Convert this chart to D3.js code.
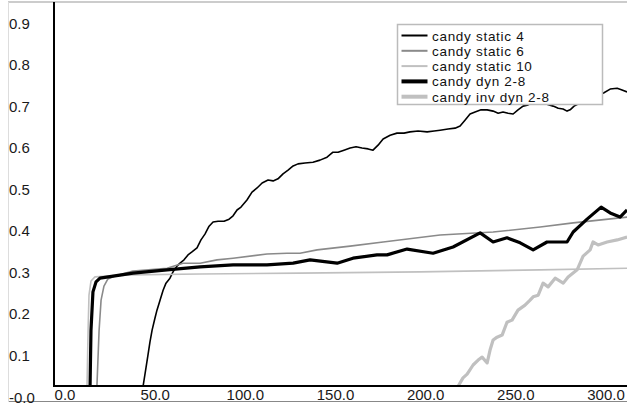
<!DOCTYPE html>
<html>
<head>
<meta charset="utf-8">
<script src="https://cdn.jsdelivr.net/npm/d3@7"></script>
<style>
  html, body { margin: 0; padding: 0; background: #fff; }
  svg { display: block; }
  text { font-family: "Liberation Sans", Arial, sans-serif; }
</style>
</head>
<body>
<div id="chart"></div>
<script>
// tick values and labels
const xTicks = [0, 50, 100, 150, 200, 250, 300];
const xTickLabels = ["0.0", "50.0", "100.0", "150.0", "200.0", "250.0", "300.0"];
const yTicks = [0, 0.1, 0.2, 0.3, 0.4, 0.5, 0.6, 0.7, 0.8, 0.9];
const yTickLabels = ["-0.0", "0.1", "0.2", "0.3", "0.4", "0.5", "0.6", "0.7", "0.8", "0.9"];

// series, [x, y]
const static4 = [
  [42.2,-0.01],[43.3,0.026],[44.9,0.070],[46.0,0.101],[47.1,0.132],[48.3,0.161],[49.9,0.190],
  [51.0,0.209],[52.7,0.233],[54.4,0.257],[56.0,0.274],[58.2,0.286],[59.9,0.301],[62.1,0.315],
  [63.8,0.322],[66.0,0.330],[68.2,0.342],[70.4,0.349],[73.2,0.359],[75.4,0.378],[77.6,0.392],
  [79.9,0.411],[82.1,0.421],[84.9,0.423],[88.2,0.423],[91.0,0.428],[93.2,0.436],[95.4,0.450],
  [97.6,0.457],[100.9,0.474],[103.7,0.493],[106.5,0.503],[109.3,0.515],[112.6,0.522],[115.4,0.520],
  [118.1,0.525],[120.9,0.537],[123.7,0.546],[126.5,0.556],[129.2,0.561],[133.1,0.563],[137.5,0.565],
  [141.4,0.570],[145.3,0.577],[148.6,0.589],[151.4,0.589],[154.7,0.594],[158.1,0.599],[161.4,0.602],
  [164.7,0.599],[168.1,0.597],[170.8,0.594],[173.6,0.606],[176.4,0.621],[180.3,0.630],[184.1,0.635],
  [188.0,0.635],[191.3,0.638],[195.8,0.640],[200.8,0.638],[204.7,0.640],[208.0,0.642],[212.4,0.645],
  [216.3,0.647],[219.1,0.652],[221.8,0.666],[224.6,0.681],[227.4,0.686],[230.7,0.691],[234.1,0.691],
  [237.4,0.688],[240.2,0.683],[242.9,0.686],[245.7,0.683],[248.5,0.681],[251.2,0.691],[254.0,0.700],
  [256.8,0.703],[260.1,0.710],[263.5,0.710],[266.8,0.705],[270.7,0.700],[273.5,0.695],[276.2,0.693],
  [278.4,0.688],[280.1,0.691],[282.3,0.700],[284.5,0.705],[287.9,0.712],[291.2,0.719],[295.1,0.727],
  [298.4,0.731],[302.3,0.741],[306.2,0.743],[308.9,0.739],[311.7,0.734]
];
const static6 = [
  [17.2,-0.01],[17.7,0.026],[18.9,0.160],[20.0,0.233],[21.6,0.267],[23.8,0.284],[27.7,0.291],
  [37.7,0.303],[56.6,0.310],[65.4,0.322],[74.9,0.322],[84.3,0.330],[93.2,0.334],[112.0,0.344],
  [123.1,0.346],[130.3,0.346],[139.8,0.354],[158.1,0.363],[176.4,0.373],[208.0,0.390],
  [237.4,0.397],[263.5,0.409],[281.8,0.419],[311.7,0.433]
];
const static10 = [
  [11.6,-0.01],[12.2,0.026],[12.8,0.160],[13.3,0.245],[14.4,0.279],[16.6,0.289],[36.1,0.294],
  [74.9,0.296],[130.3,0.298],[196.9,0.301],[263.5,0.306],[311.7,0.310]
];
const dyn28 = [
  [13.3,-0.01],[13.9,0.026],[14.4,0.160],[15.5,0.253],[17.2,0.277],[19.4,0.286],[37.7,0.298],
  [56.6,0.306],[74.9,0.313],[93.2,0.318],[112.0,0.318],[126.5,0.322],[135.9,0.330],[150.9,0.322],
  [159.7,0.334],[173.0,0.342],[178.6,0.342],[189.7,0.356],[204.1,0.346],[215.2,0.361],[230.2,0.395],
  [237.4,0.373],[245.1,0.383],[252.4,0.371],[259.6,0.354],[267.3,0.373],[278.4,0.373],[281.8,0.397],
  [289.5,0.428],[297.3,0.457],[302.3,0.443],[307.8,0.433],[311.7,0.450]
];
const invDyn28 = [
  [216.3,-0.01],[218.0,0.026],[220.7,0.046],[223.0,0.055],[226.3,0.077],[229.1,0.089],[231.3,0.096],
  [234.1,0.082],[235.7,0.113],[237.4,0.137],[239.6,0.144],[242.4,0.149],[245.1,0.180],[247.9,0.185],
  [251.2,0.209],[255.1,0.221],[257.9,0.233],[259.6,0.241],[262.4,0.245],[265.1,0.274],[267.9,0.265],
  [271.8,0.286],[274.5,0.279],[276.3,0.274],[279.0,0.289],[284.0,0.306],[287.3,0.339],[291.2,0.354],
  [292.8,0.373],[295.6,0.366],[300.6,0.373],[306.2,0.378],[311.7,0.385]
];

const seriesNames = ["candy static 4", "candy static 6", "candy static 10", "candy dyn 2-8", "candy inv dyn 2-8"];
const seriesData = [static4, static6, static10, dyn28, invDyn28];
const seriesColors = ["#000", "#8a8a8a", "#c0c0c0", "#000", "#c0c0c0"];
const seriesWidths = [1.6, 1.6, 1.6, 3.2, 3.2];

const width = 627;
const height = 406;
const plot = {left: 54, right: 627, top: 2, bottom: 386};

const svg = d3.select('#chart').append('svg')
  .attr('width', width)
  .attr('height', height);

svg.append('rect').attr('width', width).attr('height', height).attr('fill', '#fff');

const x = d3.scaleLinear().domain([0, 300]).range([65, 606]);
const y = d3.scaleLinear().domain([0, 0.9]).range([397, 23]);

// outer frame
svg.append('line').attr('x1', 8).attr('x2', width).attr('y1', 2).attr('y2', 2)
  .attr('stroke', '#999').attr('stroke-width', 1);
svg.append('line').attr('x1', 8).attr('x2', width).attr('y1', 401.5).attr('y2', 401.5)
  .attr('stroke', '#888').attr('stroke-width', 1);
svg.append('line').attr('x1', 8.5).attr('x2', 8.5).attr('y1', 2).attr('y2', 402)
  .attr('stroke', '#ddd').attr('stroke-width', 1);

svg.append('clipPath').attr('id', 'clip')
  .append('rect')
  .attr('x', plot.left).attr('y', plot.top)
  .attr('width', plot.right - plot.left).attr('height', plot.bottom - plot.top);

const line = d3.line().x(d => x(d[0])).y(d => y(d[1]));

svg.append('g').attr('clip-path', 'url(#clip)')
  .selectAll('path')
  .data(seriesData)
  .join('path')
  .attr('d', line)
  .attr('fill', 'none')
  .attr('stroke', (d, i) => seriesColors[i])
  .attr('stroke-width', (d, i) => seriesWidths[i])
  .attr('stroke-linejoin', 'round');

// axes
svg.append('line').attr('x1', plot.left).attr('x2', plot.left).attr('y1', plot.top).attr('y2', plot.bottom + 1)
  .attr('stroke', '#000').attr('stroke-width', 2);
svg.append('line').attr('x1', plot.left - 1).attr('x2', plot.right).attr('y1', plot.bottom).attr('y2', plot.bottom)
  .attr('stroke', '#000').attr('stroke-width', 2);

svg.append('g')
  .selectAll('text')
  .data(yTicks)
  .join('text')
  .attr('x', 9)
  .attr('y', d => y(d) + 5.5)
  .attr('font-size', 15)
  .attr('fill', '#1a1a1a')
  .text((d, i) => yTickLabels[i]);

svg.append('g')
  .selectAll('text')
  .data(xTicks)
  .join('text')
  .attr('x', d => x(d))
  .attr('y', 400)
  .attr('text-anchor', 'middle')
  .attr('font-size', 15)
  .attr('fill', '#1a1a1a')
  .text((d, i) => xTickLabels[i]);

// legend
const legend = svg.append('g').attr('transform', 'translate(397.5,24.5)');
legend.append('rect')
  .attr('width', 205).attr('height', 80)
  .attr('fill', '#fff').attr('stroke', '#bbb').attr('stroke-width', 1.5);

const rows = legend.selectAll('g')
  .data(seriesNames)
  .join('g')
  .attr('transform', (d, i) => `translate(0 ${11 + i * 15.3})`);

rows.append('line')
  .attr('x1', 4).attr('x2', 30)
  .attr('stroke', (d, i) => seriesColors[i])
  .attr('stroke-width', (d, i) => seriesWidths[i] > 2 ? 4 : 2);

rows.append('text')
  .attr('x', 34.5)
  .attr('y', 5)
  .attr('font-size', 13.5)
  .attr('letter-spacing', 0.7)
  .attr('fill', '#111')
  .text(d => d);
</script>
</body>
</html>
